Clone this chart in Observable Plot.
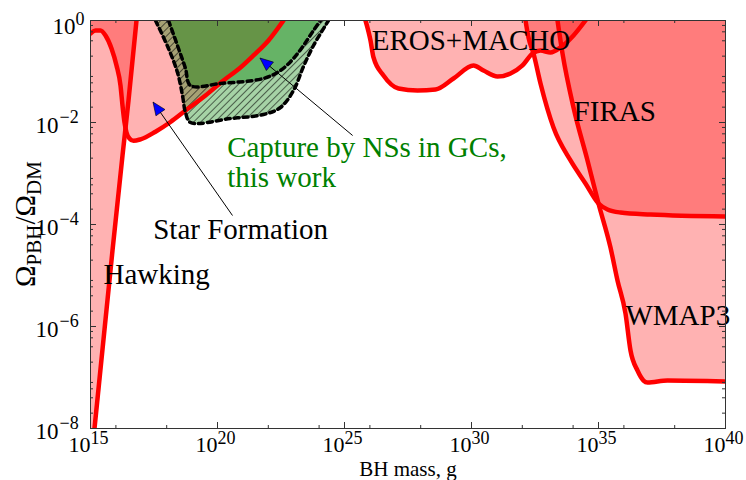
<!DOCTYPE html>
<html><head><meta charset="utf-8">
<script src="https://cdn.jsdelivr.net/npm/d3@7"></script>
<script src="https://cdn.jsdelivr.net/npm/@observablehq/plot@0.6"></script>
<style>html,body{margin:0;padding:0;background:#fff}svg{display:block}</style>
</head><body><div id="chart"></div>
<script>
// ---- data (log10 of BH mass in g, log10 of Omega_PBH/Omega_DM) ----
const hawkingM = [15.0, 15.157, 15.866, 16.26, 16.496, 16.811];
const hawkingO = [-8, -8, -4.51, -2.647, -1.569, 0];

const starM = [15.0, 15.197, 15.394, 15.591, 15.827, 16.024, 16.181, 16.26, 16.339, 16.417, 16.535, 16.693, 16.969, 17.559, 18.15, 18.74, 19.528, 20.236, 20.906, 21.417, 22.008, 22.598];
const starO = [-0.255, -0.196, -0.196, -0.294, -0.549, -0.882, -1.275, -1.667, -2.0, -2.196, -2.314, -2.36, -2.33, -2.18, -1.99, -1.765, -1.471, -1.176, -0.922, -0.686, -0.392, 0];

const erosM = [25.827, 26.024, 26.142, 26.535, 27.126, 27.874, 28.583, 29.291, 30.079, 30.472, 31.024, 31.535, 32.008, 32.402, 32.717, 33.11, 33.504, 34.016, 34.488];
const erosO = [0, -0.392, -0.725, -1.078, -1.333, -1.373, -1.353, -1.137, -0.882, -0.98, -1.098, -1.039, -0.882, -0.647, -0.588, -0.627, -0.529, -0.294, 0];

const firasM = [32.126, 32.244, 32.441, 32.717, 33.228, 33.898, 34.488, 35.0, 35.354, 35.866, 37.047, 40];
const firasO = [0, -0.333, -0.647, -1.235, -2.098, -2.745, -3.196, -3.588, -3.706, -3.765, -3.804, -3.843];

const wmapM = [33.386, 33.583, 34.016, 34.567, 35.0, 35.472, 35.748, 36.063, 36.26, 36.535, 36.772, 36.929, 37.717, 40];
const wmapO = [0, -0.647, -1.706, -2.745, -3.588, -4.451, -5.098, -5.745, -6.471, -6.863, -7.059, -7.098, -7.059, -7.078];

const captureOuterM = [17.559, 18.071, 18.425, 18.622, 18.74, 18.937, 20.512, 21.811, 22.48, 22.992, 23.386, 23.78, 24.37];
const captureOuterO = [0, -0.549, -1.02, -1.471, -1.804, -2.0, -1.922, -1.843, -1.706, -1.373, -0.902, -0.49, 0];

const captureInnerM = [18.071, 18.465, 18.74, 18.937, 20.118, 21.811, 22.48, 22.992, 23.386, 23.78, 24.055];
const captureInnerO = [0, -0.549, -0.941, -1.275, -1.235, -1.137, -0.98, -0.745, -0.49, -0.196, 0];

// annotations
const blackLabels = ["EROS+MACHO", "FIRAS", "WMAP3", "Hawking", "Star Formation"];
const blackLabelM = [26.07, 34.02, 36.06, 15.51, 17.47];
const blackLabelO = [-0.569, -1.974, -5.98, -5.157, -4.275];
const greenLabels = ["Capture by NSs in GCs,", "this work"];
const greenLabelM = [20.38, 20.38];
const greenLabelO = [-2.68, -3.268];

const arrowTailM = [20.59, 25.32];
const arrowTailO = [-3.824, -2.255];
const arrowTipM = [17.48, 21.69];
const arrowTipO = [-1.608, -0.745];

// ticks
const xMajorExp = [15, 20, 25, 30, 35, 40];
const xMajorLabels = ["15", "20", "25", "30", "35", "40"];
const xMinorExp = [16, 18, 22, 24, 26, 28, 32, 34, 36, 38];
const yMajorExp = [0, -2, -4, -6, -8];
const yMajorLabels = ["0", "\u22122", "\u22124", "\u22126", "\u22128"];
const yMinorMant = [2, 4, 6, 8];
const yMinorDecades = [-8, -7, -6, -5, -4, -3, -2, -1];

// ---- build ----
const W = 746, H = 480, ML = 90, MR = 21, MT = 20, MB = 52;
const FW = W - ML - MR, FH = H - MT - MB;
const FONT = "'Liberation Serif', 'Times New Roman', serif";

const rows = (ms, os) => ms.map((m, i) => ({m: 10 ** m, o: 10 ** os[i]}));
const hawking = rows(hawkingM, hawkingO);
const star = rows(starM, starO);
const eros = rows(erosM, erosO);
const firas = rows(firasM, firasO);
const wmap = rows(wmapM, wmapO);
const outer = rows(captureOuterM, captureOuterO);
const inner = rows(captureInnerM, captureInnerO);
const band = outer.concat(inner.slice().reverse());

const arrows = arrowTailM.map((_, i) => ({
  x1: 10 ** arrowTailM[i], y1: 10 ** arrowTailO[i],
  x2: 10 ** arrowTipM[i], y2: 10 ** arrowTipO[i]
}));
const blackAnn = blackLabels.map((t, i) => ({t, m: 10 ** blackLabelM[i], o: 10 ** blackLabelO[i]}));
const greenAnn = greenLabels.map((t, i) => ({t, m: 10 ** greenLabelM[i], o: 10 ** greenLabelO[i]}));

const xMajor = xMajorExp.map((e, i) => ({v: 10 ** e, t: xMajorLabels[i]}));
const xMinor = xMinorExp.map(e => 10 ** e);
const yMajor = yMajorExp.map((e, i) => ({v: 10 ** e, t: yMajorLabels[i], neg: e < 0}));
const yMinor = yMinorDecades.flatMap(k => yMinorMant.map(m => m * 10 ** k));

const pinkRegions = [hawking, star, eros, firas, wmap];
const redLines = [hawking.slice(1), star, eros, firas, wmap];

function arrowHeads(index, scales, values, dims) {
  const sx = scales && typeof scales.x === "function" ? scales.x : d3.scaleLog([1e15, 1e40], [ML, W - MR]);
  const sy = scales && typeof scales.y === "function" ? scales.y : d3.scaleLog([1e-8, 1], [H - MB, MT]);
  const g = d3.create("svg:g");
  arrows.forEach(a => {
    const tx = sx(a.x2), ty = sy(a.y2), bx = sx(a.x1), by = sy(a.y1);
    const L = Math.hypot(bx - tx, by - ty), ux = (bx - tx) / L, uy = (by - ty) / L;
    const len = 13, hw = 5.5;
    const cx = tx + ux * len, cy = ty + uy * len;
    const pts = [[tx, ty], [cx - uy * hw, cy + ux * hw], [cx + uy * hw, cy - ux * hw]];
    g.append("path").attr("d", "M" + pts.map(p => p.join(",")).join("L") + "Z")
      .attr("fill", "#0000ff").attr("stroke", "#000").attr("stroke-width", 0.6);
  });
  return g.node();
}

const tickColor = "#333";
const plot = Plot.plot({
  width: W, height: H,
  marginLeft: ML, marginRight: MR, marginTop: MT, marginBottom: MB,
  style: {fontFamily: FONT, background: "#fff", overflow: "visible"},
  x: {type: "log", domain: [1e15, 1e40], axis: null},
  y: {type: "log", domain: [1e-8, 1], axis: null},
  marks: [
    ...pinkRegions.map(r => Plot.areaY(r, {x: "m", y1: "o", y2: () => 1, fill: "red", fillOpacity: 0.3, curve: "monotone-x", clip: true})),
    Plot.line(band, {x: "m", y: "o", fill: "green", fillOpacity: 0.35, stroke: "none", curve: "catmull-rom", clip: true}),
    Plot.line(band, {x: "m", y: "o", fill: "url(#hatch)", stroke: "none", curve: "catmull-rom", clip: true}),
    Plot.areaY(inner, {x: "m", y1: "o", y2: () => 1, fill: "green", fillOpacity: 0.6, curve: "catmull-rom", clip: true}),
    ...redLines.map(r => Plot.line(r, {x: "m", y: "o", stroke: "#ff0000", strokeWidth: 4.5, curve: "monotone-x", strokeLinejoin: "round", clip: true})),
    Plot.line(outer, {x: "m", y: "o", stroke: "#000", strokeWidth: 3.5, strokeDasharray: "5,4", curve: "catmull-rom", clip: true}),
    Plot.line(inner, {x: "m", y: "o", stroke: "#000", strokeWidth: 3.5, strokeDasharray: "5,4", curve: "catmull-rom", clip: true}),
    Plot.link(arrows, {x1: "x1", y1: "y1", x2: "x2", y2: "y2", stroke: "#000", strokeWidth: 1}),
    arrowHeads,
    Plot.text(blackAnn, {x: "m", y: "o", text: "t", textAnchor: "start", lineAnchor: "bottom", fontSize: 29, fill: "#000"}),
    Plot.text(greenAnn, {x: "m", y: "o", text: "t", textAnchor: "start", lineAnchor: "bottom", fontSize: 29, fill: "green"}),
    // frame and inward ticks
    Plot.frame({stroke: tickColor, strokeWidth: 1}),
    Plot.ruleX(xMajor, {x: "v", insetTop: FH - 6, stroke: tickColor}),
    Plot.ruleX(xMajor, {x: "v", insetBottom: FH - 6, stroke: tickColor}),
    Plot.ruleX(xMinor, {insetTop: FH - 3, stroke: tickColor}),
    Plot.ruleX(xMinor, {insetBottom: FH - 3, stroke: tickColor}),
    Plot.ruleY(yMajor, {y: "v", insetRight: FW - 6, stroke: tickColor}),
    Plot.ruleY(yMajor, {y: "v", insetLeft: FW - 6, stroke: tickColor}),
    Plot.ruleY(yMinor, {insetRight: FW - 3, stroke: tickColor}),
    Plot.ruleY(yMinor, {insetLeft: FW - 3, stroke: tickColor}),
    // tick labels
    Plot.text(xMajor, {x: "v", y: () => 1e-8, text: () => "10", textAnchor: "end", lineAnchor: "bottom", dy: 23, fontSize: 22, fill: "#000"}),
    Plot.text(xMajor, {x: "v", y: () => 1e-8, text: "t", textAnchor: "start", lineAnchor: "bottom", dy: 15, fontSize: 18, fill: "#000"}),
    Plot.text(yMajor, {x: () => 1e15, y: "v", text: () => "10", textAnchor: "end", lineAnchor: "bottom", dx: -32, dy: 10, fontSize: 23, fill: "#000", filter: d => d.neg}),
    Plot.text(yMajor, {x: () => 1e15, y: "v", text: "t", textAnchor: "start", lineAnchor: "bottom", dx: -31, dy: 0, fontSize: 18, fill: "#000", filter: d => d.neg}),
    Plot.text(yMajor, {x: () => 1e15, y: "v", text: () => "10", textAnchor: "end", lineAnchor: "bottom", dx: -15, dy: 13, fontSize: 23, fill: "#000", filter: d => !d.neg}),
    Plot.text(yMajor, {x: () => 1e15, y: "v", text: "t", textAnchor: "start", lineAnchor: "bottom", dx: -15, dy: 4, fontSize: 18, fill: "#000", filter: d => !d.neg}),
    Plot.text(["BH mass, g"], {frameAnchor: "bottom", text: d => d, lineAnchor: "bottom", dy: 47, fontSize: 21, fill: "#000"})
  ]
});

document.getElementById("chart").appendChild(plot);

// hatch pattern + y axis label
const svg = d3.select(plot.tagName.toLowerCase() === "svg" ? plot : plot.querySelector("svg"));
const defs = svg.insert("defs", ":first-child");
const pat = defs.append("pattern").attr("id", "hatch").attr("patternUnits", "userSpaceOnUse")
  .attr("width", 5).attr("height", 5).attr("patternTransform", "rotate(45)");
pat.append("line").attr("x1", 2.5).attr("y1", 0).attr("x2", 2.5).attr("y2", 5)
  .attr("stroke", "#000").attr("stroke-width", 0.7).attr("stroke-opacity", 0.8);

const yl = svg.append("text").attr("transform", "translate(35,224) rotate(-90)")
  .attr("text-anchor", "middle").attr("font-family", FONT).attr("font-size", 29).attr("fill", "#000");
yl.append("tspan").text("\u03A9");
yl.append("tspan").attr("font-size", 21).attr("dy", 6).text("PBH");
yl.append("tspan").attr("dy", -6).text("/\u03A9");
yl.append("tspan").attr("font-size", 21).attr("dy", 6).text("DM");
</script>
</body></html>
